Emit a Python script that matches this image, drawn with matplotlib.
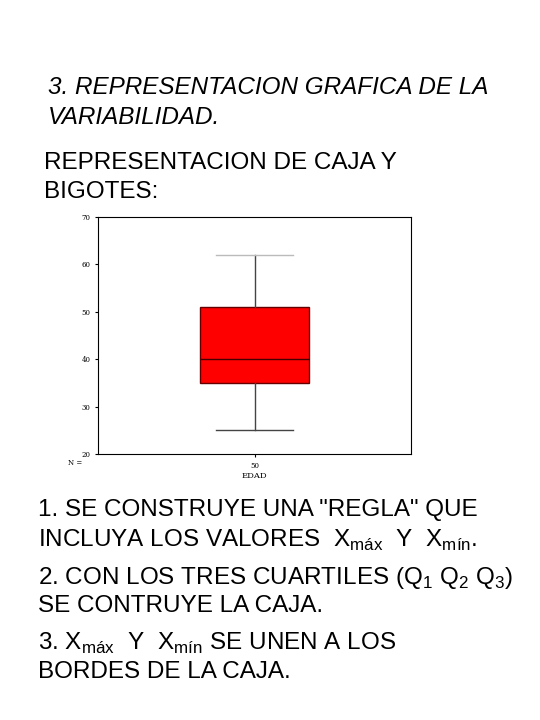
import matplotlib
matplotlib.use('Agg')
import matplotlib.pyplot as plt

# box plot summary for EDAD
whisker_lo = 25
q1 = 35
median = 40
q3 = 51
whisker_hi = 62
n_label = '50'
y_ticks = [20, 30, 40, 50, 60, 70]

plt.rcParams['font.family'] = ['Liberation Sans', 'DejaVu Sans']

fig = plt.figure(figsize=(5.4, 7.2), dpi=100)

fs = 17.5
fig.text(48/540, 1 - 88/720, '3. REPRESENTACION GRAFICA DE LA', fontsize=fs, style='italic', va='center')
fig.text(48/540, 1 - 118/720, 'VARIABILIDAD.', fontsize=fs, style='italic', va='center')
fig.text(44/540, 1 - 163/720, 'REPRESENTACION DE CAJA Y', fontsize=fs, va='center')
fig.text(44/540, 1 - 192/720, 'BIGOTES:', fontsize=fs, va='center')

ax = fig.add_axes([98/540, 1 - 454/720, 313/540, 237/720])
stats = [dict(med=median, q1=q1, q3=q3, whislo=whisker_lo, whishi=whisker_hi, fliers=[], label=n_label)]
bp = ax.bxp(stats, positions=[1], widths=1.05, patch_artist=True,
            boxprops=dict(facecolor='#ff0000', edgecolor='#660000', linewidth=1),
            medianprops=dict(color='#440000', linewidth=1),
            whiskerprops=dict(color='#444444', linewidth=1),
            capprops=dict(color='#444444', linewidth=1), capwidths=0.73)
bp['caps'][1].set_color('#bbbbbb')
ax.set_xlim(-0.5, 2.5)
ax.set_ylim(20, 70)
ax.set_yticks(y_ticks)
ax.tick_params(labelsize=5, length=2, labelfontfamily='DejaVu Serif')
ax.set_xlabel('EDAD', fontsize=6, family='DejaVu Serif', labelpad=2)
ax.text(-0.05, -0.02, 'N =', transform=ax.transAxes, fontsize=5, ha='right', va='top', family='DejaVu Serif')

lines = [(510, '1. SE CONSTRUYE UNA "REGLA" QUE'),
         (540, r'INCLUYA LOS VALORES  X$_{\mathregular{máx}}$  Y  X$_{\mathregular{mín}}$.'),
         (578, r'2. CON LOS TRES CUARTILES (Q$_{\mathregular{1}}$ Q$_{\mathregular{2}}$ Q$_{\mathregular{3}}$)'),
         (606, 'SE CONTRUYE LA CAJA.'),
         (643, r'3. X$_{\mathregular{máx}}$  Y  X$_{\mathregular{mín}}$ SE UNEN A LOS'),
         (672, 'BORDES DE LA CAJA.')]
for y, s in lines:
    fig.text(38/540, 1 - y/720, s, fontsize=fs, va='center')

fig.savefig('out.png', dpi=100)
